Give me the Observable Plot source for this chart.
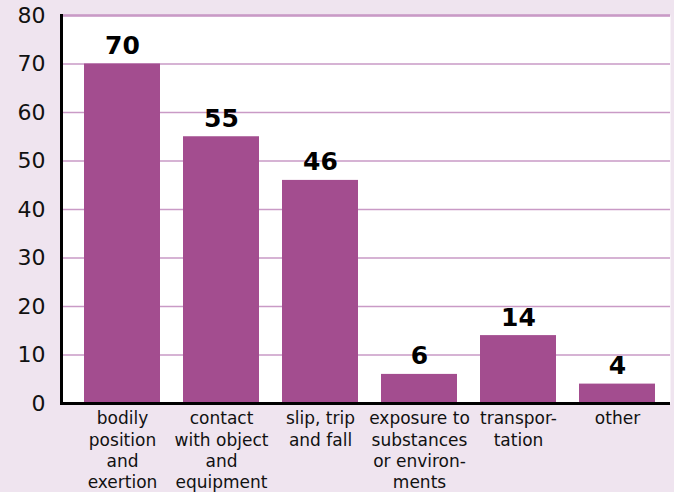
<!DOCTYPE html>
<html><head><meta charset="utf-8">
<script src="https://cdn.jsdelivr.net/npm/d3@7"></script>
<script src="https://cdn.jsdelivr.net/npm/@observablehq/plot@0.6"></script>
<style>
html,body{margin:0;padding:0;background:#efe4ef;}
#chart{width:674px;height:492px;}
</style></head><body><div id="chart"></div>
<script>
const categories = ["bodily\nposition\nand\nexertion","contact\nwith object\nand\nequipment","slip, trip\nand fall","exposure to\nsubstances\nor environ-\nments","transpor-\ntation","other"];
const values = [70, 55, 46, 6, 14, 4];
const yTicks = [0,10,20,30,40,50,60,70,80];
const data = categories.map((c,i)=>({cat:c, v:values[i]}));
const font = "DejaVu Sans, Verdana, sans-serif";
const chart = Plot.plot({
  width: 674, height: 492,
  marginLeft: 61, marginRight: 4, marginTop: 15, marginBottom: 89,
  style: {background: "#efe4ef", fontFamily: font, color: "#111"},
  x: {domain: categories, paddingInner: 0.23, paddingOuter: 0, insetLeft: 21, insetRight: 12, label: null},
  y: {domain: [0, 80], ticks: yTicks, label: null},
  marks: [
    Plot.frame({fill: "white", stroke: null}),
    Plot.gridY(yTicks, {stroke: "#c99ac6", strokeOpacity: 1, strokeWidth: 1.3}),
    Plot.gridY([80], {stroke: "#c99ac6", strokeOpacity: 1, strokeWidth: 2.5}),
    Plot.barY(data, {x: "cat", y: "v", fill: "#a34d8f"}),
    Plot.text(data, {x: "cat", y: "v", text: d => String(d.v), dy: -18, fontSize: 25, fontWeight: "bold", fill: "#000"}),
    Plot.axisY(yTicks, {tickSize: 0, tickPadding: 16, fontSize: 22, label: null}),
    Plot.axisX({tickSize: 0, tickPadding: 6, fontSize: 17, lineHeight: 1.24, label: null}),
    Plot.frame({anchor: "left", stroke: "#000", strokeWidth: 3}),
    Plot.ruleY([0], {stroke: "#000", strokeWidth: 3})
  ]
});
document.getElementById("chart").appendChild(chart);
</script></body></html>
